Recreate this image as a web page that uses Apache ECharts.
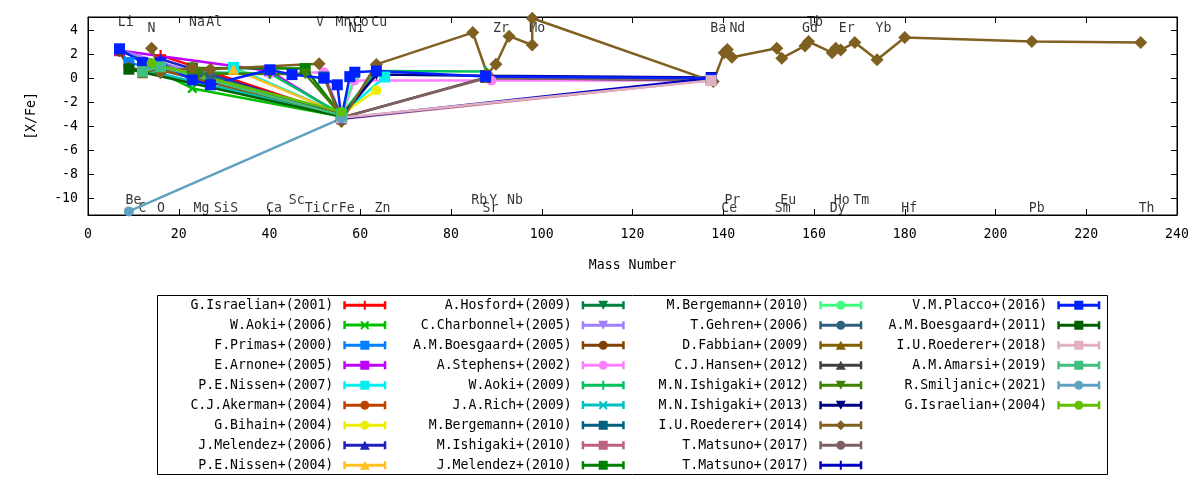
<!DOCTYPE html>
<html>
<head>
<meta charset="utf-8">
<script src="https://cdn.jsdelivr.net/npm/echarts@6.0.0/dist/echarts.min.js"></script>
<style>
  html, body { margin: 0; padding: 0; background: #fff; }
  #chart { width: 1200px; height: 480px; }
</style>
</head>
<body>
<div id="chart"></div>
<script>
// tick values of the [X/Fe] axis
var yTicks = [-10, -8, -6, -4, -2, 0, 2, 4];

// element names written along the top and bottom of the frame: [name, mass, row]
var elementLabels = [
  ['Li', 8.3, 't1'], ['N', 14.0, 't2'], ['Na', 24.0, 't1'], ['Al', 27.8, 't1'],
  ['V', 51.1, 't1'], ['Mn', 56.3, 't1'], ['Co', 60.1, 't1'], ['Cu', 64.2, 't1'],
  ['Ni', 59.2, 't2'], ['Zr', 91.0, 't2'], ['Mo', 99.0, 't2'], ['Ba', 138.9, 't2'],
  ['Nd', 143.1, 't2'], ['Gd', 159.1, 't2'], ['Tb', 160.2, 't1'], ['Er', 167.2, 't2'],
  ['Yb', 175.3, 't2'],
  ['Be', 10.0, 'b1'], ['C', 12.0, 'b2'], ['O', 16.1, 'b2'], ['Mg', 25.0, 'b2'],
  ['Si', 29.5, 'b2'], ['S', 32.2, 'b2'], ['Ca', 41.0, 'b2'], ['Sc', 46.0, 'b1'],
  ['Ti', 49.5, 'b2'], ['Cr', 53.3, 'b2'], ['Fe', 57.0, 'b2'], ['Zn', 64.9, 'b2'],
  ['Rb', 86.2, 'b1'], ['Y', 89.3, 'b1'], ['Sr', 88.7, 'b2'], ['Nb', 94.1, 'b1'],
  ['Pr', 142.0, 'b1'], ['Ce', 141.3, 'b2'], ['Eu', 154.3, 'b1'], ['Sm', 153.1, 'b2'],
  ['Ho', 166.1, 'b1'], ['Dy', 165.2, 'b2'], ['Tm', 170.4, 'b1'], ['Hf', 181.0, 'b2'],
  ['Pb', 209.1, 'b2'], ['Th', 233.3, 'b2']
];
var rowValue = { t1: 4.63, t2: 4.17, b1: -10.2, b2: -10.9 };

// [mass number, [X/Fe]] per reference
var israelian2001 = [[16.00, 1.9], [55.85, -3.1]];
var aoki2006 = [[12.01, 1.2], [22.99, -0.85], [55.85, -3.2]];
var primas2000 = [[6.94, 2.3], [9.01, 1.3], [55.85, -3.0]];
var arnone2005 = [[6.94, 2.3], [40.08, 0.6], [55.85, -3.1]];
var nissen2007 = [[32.06, 0.9], [55.85, -3.0], [65.38, 0.1]];
var akerman2004 = [[12.01, 0.5], [16.00, 0.7], [55.85, -3.0]];
var bihain2004 = [[55.85, -3.0], [63.55, -1.0]];
var melendez2006 = [[16.00, 1.6], [55.85, -3.1]];
var nissen2004 = [[32.06, 0.75], [55.85, -3.0]];
var hosford2009 = [[6.94, 2.2], [55.85, -3.1]];
var charbonnel2005 = [[6.94, 2.35], [55.85, -3.2]];
var boesgaard2005 = [[6.94, 2.2], [9.01, 0.9], [55.85, -3.0]];
var stephens2002 = [[40.08, 0.4], [52.00, 0.5], [55.85, -3.2], [58.69, -0.2], [88.91, -0.2], [137.33, -0.2]];
var aoki2009 = [[24.31, 0.5], [40.08, 0.4], [55.85, -3.0], [63.55, 0.6], [87.62, 0.55]];
var rich2009 = [[12.01, 0.7], [55.85, -3.1]];
var bergemann2010a = [[52.00, 0.1], [55.85, -3.2]];
var ishigaki2010 = [[55.85, -3.4], [137.33, -0.15]];
var melendez2010 = [[22.99, 0.85], [47.87, 0.8], [55.85, -3.1]];
var bergemann2010b = [[55.85, -3.0], [58.93, 0.3]];
var gehren2006 = [[22.99, 0.1], [24.31, 0.4], [26.98, 0.2], [55.85, -3.2]];
var fabbian2009 = [[12.01, 0.45], [16.00, 0.85], [55.85, -3.1]];
var hansen2012 = [[55.85, -3.3], [87.62, 0.05], [137.33, -0.2]];
var ishigaki2012 = [[22.99, 0.3], [24.31, 0.4], [40.08, 0.35], [47.87, 0.35], [55.85, -3.1]];
var ishigaki2013 = [[55.85, -3.2], [63.55, 0.3], [87.62, 0.2], [137.33, 0.05]];
var roederer2014 = [
  [14.01, 2.5], [16.00, 0.45], [22.99, 0.9], [26.98, 0.75], [50.94, 1.2], [55.85, -3.6],
  [63.55, 1.15], [84.8, 3.8], [88.0, 0.33], [89.9, 1.17], [92.8, 3.5], [97.9, 2.77],
  [97.9, 5.0], [137.8, -0.28], [140.2, 2.13], [140.9, 2.4], [141.9, 1.75], [151.8, 2.5],
  [152.9, 1.67], [158.0, 2.69], [158.8, 3.05], [164.0, 2.13], [164.8, 2.5], [165.9, 2.36],
  [169.0, 2.97], [173.9, 1.53], [180.0, 3.39], [208.0, 3.05], [232.0, 2.97]
];
var matsuno2017a = [[55.85, -3.3], [87.62, 0.0], [137.33, -0.15]];
var matsuno2017b = [[55.85, -3.35], [137.33, 0.0]];
var placco2016 = [
  [6.94, 2.45], [12.01, 1.3], [16.00, 1.3], [22.99, -0.15], [26.98, -0.55], [40.08, 0.7],
  [44.96, 0.3], [52.00, 0.0], [54.94, -0.55], [55.85, -3.3], [57.7, 0.13], [58.8, 0.5],
  [63.55, 0.6], [87.62, 0.15], [137.33, 0.0]
];
var boesgaard2011 = [[9.01, 0.75], [55.85, -3.2]];
var roederer2018 = [[55.85, -3.3], [137.33, -0.2]];
var amarsi2019 = [[12.01, 0.55], [16.00, 0.95], [55.85, -3.1]];
var smiljanic2021 = [[9.01, -11.1], [55.85, -3.35]];
var israelian2004 = [[14.01, 1.25], [55.85, -2.8]];

var FONT = 'DejaVu Sans Mono';
var PLUS = 'path://M4,0H6V4H10V6H6V10H4V6H0V4H4Z';
var marks = {
  plus: [PLUS, 0, 11], cross: [PLUS, 45, 12], square: ['rect', 0, 11], circle: ['circle', 0, 10],
  up: ['triangle', 0, 11], down: ['triangle', 180, 11], diamond: ['diamond', 0, 13]
};

// legend sample: line with error-bar caps and the point mark in the middle
var capsAndBar = 'M0,2H2.5V10H0Z M40.5,2H43V10H40.5Z M2.5,4.5H40.5V7.5H2.5Z ';
var legendMarks = {
  plus: 'M20.5,1.5H22.5V10.5H20.5Z M17,4.5H26V7.5H17Z',
  cross: 'M17,3L18.4,1.6L26,9.2L24.6,10.6Z M24.6,1.6L26,3L18.4,10.6L17,9.2Z',
  square: 'M17,1.5H26V10.5H17Z',
  circle: 'M17,6A4.5,4.5 0 1,1 26,6A4.5,4.5 0 1,1 17,6Z',
  up: 'M21.5,1.5L26.5,10.5H16.5Z',
  down: 'M16.5,1.5H26.5L21.5,10.5Z',
  diamond: 'M21.5,1L26.5,6L21.5,11L16.5,6Z'
};

// name (a '#2' suffix keeps repeated names apart), data, colour, mark
var refs = [
  ['G.Israelian+(2001)', israelian2001, '#ff0000', 'plus'],
  ['W.Aoki+(2006)', aoki2006, '#00c000', 'cross'],
  ['F.Primas+(2000)', primas2000, '#0080ff', 'square'],
  ['E.Arnone+(2005)', arnone2005, '#c000ff', 'square'],
  ['P.E.Nissen+(2007)', nissen2007, '#00eeee', 'square'],
  ['C.J.Akerman+(2004)', akerman2004, '#c04000', 'circle'],
  ['G.Bihain+(2004)', bihain2004, '#eeee00', 'circle'],
  ['J.Melendez+(2006)', melendez2006, '#2020c0', 'up'],
  ['P.E.Nissen+(2004)', nissen2004, '#ffc020', 'up'],
  ['A.Hosford+(2009)', hosford2009, '#008040', 'down'],
  ['C.Charbonnel+(2005)', charbonnel2005, '#a080ff', 'down'],
  ['A.M.Boesgaard+(2005)', boesgaard2005, '#804000', 'circle'],
  ['A.Stephens+(2002)', stephens2002, '#ff80ff', 'circle'],
  ['W.Aoki+(2009)', aoki2009, '#00c060', 'plus'],
  ['J.A.Rich+(2009)', rich2009, '#00c0c0', 'cross'],
  ['M.Bergemann+(2010)', bergemann2010a, '#006080', 'square'],
  ['M.Ishigaki+(2010)', ishigaki2010, '#c06080', 'square'],
  ['J.Melendez+(2010)', melendez2010, '#008000', 'square'],
  ['M.Bergemann+(2010)#2', bergemann2010b, '#40ff80', 'circle'],
  ['T.Gehren+(2006)', gehren2006, '#306080', 'circle'],
  ['D.Fabbian+(2009)', fabbian2009, '#806000', 'up'],
  ['C.J.Hansen+(2012)', hansen2012, '#404040', 'up'],
  ['M.N.Ishigaki+(2012)', ishigaki2012, '#408000', 'down'],
  ['M.N.Ishigaki+(2013)', ishigaki2013, '#000080', 'down'],
  ['I.U.Roederer+(2014)', roederer2014, '#806020', 'diamond'],
  ['T.Matsuno+(2017)', matsuno2017a, '#806060', 'circle'],
  ['T.Matsuno+(2017)#2', matsuno2017b, '#0000c0', 'plus'],
  ['V.M.Placco+(2016)', placco2016, '#0020ff', 'square'],
  ['A.M.Boesgaard+(2011)', boesgaard2011, '#006000', 'square'],
  ['I.U.Roederer+(2018)', roederer2018, '#e0b0c0', 'square'],
  ['A.M.Amarsi+(2019)', amarsi2019, '#40c080', 'square'],
  ['R.Smiljanic+(2021)', smiljanic2021, '#60a0c0', 'circle'],
  ['G.Israelian+(2004)', israelian2004, '#60c000', 'circle']
];

var chart = echarts.init(document.getElementById('chart'));

var series = refs.map(function (r) {
  var m = marks[r[3]];
  return {
    name: r[0],
    type: 'line',
    data: r[1],
    color: r[2],
    symbol: m[0],
    symbolRotate: m[1],
    symbolSize: m[2],
    lineStyle: { width: 2.5, color: r[2] },
    itemStyle: { color: r[2] },
    emphasis: { disabled: true },
    z: 3
  };
});

series.push({
  type: 'scatter',
  silent: true,
  symbolSize: 0,
  z: 1,
  data: elementLabels.map(function (e) {
    return { name: e[0], value: [e[1], rowValue[e[2]]] };
  }),
  label: {
    show: true, position: 'inside', formatter: '{b}',
    fontFamily: FONT, fontSize: 13.2, color: '#000', textBorderWidth: 0
  }
});

// four legend columns, 9 entries each (last one 6)
var legendLeft = [168.3, 406.7, 644.3, 882.3];
var legends = legendLeft.map(function (x, i) {
  return {
    orient: 'vertical',
    left: x,
    top: 298.7,
    height: 200,
    padding: 0,
    itemWidth: 43,
    itemHeight: 12,
    itemGap: 7,
    align: 'right',
    selectedMode: false,
    data: refs.slice(i * 9, i * 9 + 9).map(function (r) {
      return { name: r[0], icon: 'path://' + capsAndBar + legendMarks[r[3]] };
    }),
    formatter: function (name) { return name.split('#')[0]; },
    textStyle: {
      fontFamily: FONT, fontSize: 13.2, color: '#000',
      width: 165, lineHeight: 12, padding: [0, 5, 0, 0]
    }
  };
});

var axisText = { fontFamily: FONT, fontSize: 13.2, color: '#000' };
var blackLine = { show: true, onZero: false, lineStyle: { color: '#000', width: 1 } };

var option = {
  animation: false,
  grid: { left: 88, right: 23, top: 17, bottom: 265, show: true, borderColor: '#000', borderWidth: 1 },
  legend: legends,
  graphic: [{
    type: 'rect',
    shape: { x: 157.5, y: 295.5, width: 950, height: 179 },
    style: { fill: 'none', stroke: '#000', lineWidth: 1 }
  }],
  xAxis: [{
    type: 'value', min: 0, max: 240, interval: 20,
    name: 'Mass Number', nameLocation: 'middle', nameGap: 44, nameTextStyle: axisText,
    axisLine: blackLine,
    axisTick: { inside: true, length: 6, lineStyle: { color: '#000' } },
    axisLabel: Object.assign({ margin: 13 }, axisText),
    splitLine: { show: false }
  }, {
    type: 'value', position: 'top', min: 0, max: 240, interval: 20,
    axisLine: blackLine,
    axisTick: { inside: true, length: 6, lineStyle: { color: '#000' } },
    axisLabel: { show: false },
    splitLine: { show: false }
  }],
  yAxis: [{
    type: 'value', min: -11.4, max: 5.1,
    name: '[X/Fe]', nameLocation: 'middle', nameGap: 50, nameTextStyle: axisText,
    axisLine: blackLine,
    axisTick: { inside: true, length: 6, customValues: yTicks, lineStyle: { color: '#000' } },
    axisLabel: Object.assign({ margin: 10, customValues: yTicks }, axisText),
    splitLine: { show: false }
  }, {
    type: 'value', position: 'right', min: -11.4, max: 5.1,
    axisLine: blackLine,
    axisTick: { inside: true, length: 6, customValues: yTicks, lineStyle: { color: '#000' } },
    axisLabel: { show: false },
    splitLine: { show: false }
  }],
  series: series
};

chart.setOption(option);
</script>
</body>
</html>
